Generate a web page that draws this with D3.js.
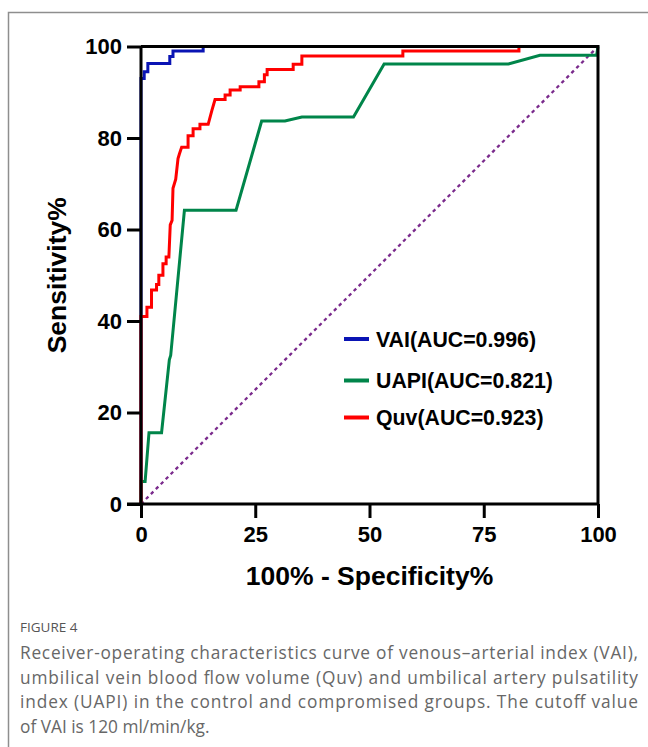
<!DOCTYPE html>
<html>
<head>
<meta charset="utf-8">
<script src="https://cdn.jsdelivr.net/npm/d3@7"></script>
<style>
  body { margin: 0; background: #fff; }
  svg { display: block; }
</style>
</head>
<body>
<div id="chart"></div>
<script>
// ROC curves, points as [100% - specificity, sensitivity]
const vaiPoints = [
  [0, 0], [0, 93], [0.7, 93], [0.7, 94.5], [1.5, 94.5], [1.5, 96.3],
  [6.3, 96.3], [6.3, 97.8], [7, 97.8], [7, 99], [13.6, 99], [13.6, 100], [100, 100]
];
const uapiPoints = [
  [0, 0], [0, 4.9], [0.9, 4.9], [1.75, 15.6], [4.5, 15.6], [6.2, 31.5], [6.5, 32.5],
  [9.5, 64.2], [20.8, 64.2], [26.4, 83.7], [31.5, 83.7], [35.2, 84.6], [46.5, 84.6],
  [53.2, 96.2], [80.4, 96.2], [87.3, 98.1], [99.7, 98.1], [100, 100]
];
const quvPoints = [
  [0, 0], [0, 41], [1.3, 41], [1.3, 43], [2.3, 43], [2.3, 46.8], [3.4, 46.8], [3.4, 48],
  [3.9, 48], [3.9, 50], [4.8, 50], [4.8, 52.5], [5.5, 52.5], [5.5, 54], [6.1, 54],
  [6.4, 61], [6.8, 62], [7.0, 69], [7.6, 71], [8.1, 75.5], [8.4, 76.5], [8.9, 78],
  [10.3, 78], [10.3, 80.5], [11.4, 80.5], [11.4, 82], [12.9, 82], [12.9, 83],
  [14.7, 83], [15.5, 86], [16.2, 88.4], [18.4, 88.4], [18.4, 89.4], [19.5, 89.4],
  [19.5, 90.5], [21.7, 90.5], [21.7, 91.2], [25.8, 91.2], [25.8, 92.3], [27, 92.3],
  [27, 93.8], [27.6, 93.8], [27.6, 95], [33.3, 95], [33.3, 96.1], [35.2, 96.1],
  [35.2, 97.9], [57.3, 97.9], [57.3, 99], [82.7, 99], [82.7, 100], [100, 100]
];
const diagonal = [[0, 0], [100, 100]];

const seriesNames = ['VAI(AUC=0.996)', 'UAPI(AUC=0.821)', 'Quv(AUC=0.923)'];
const seriesColours = ['#0a14b4', '#00854a', '#ff0000'];
const xTicks = [0, 25, 50, 75, 100];
const yTicks = [0, 20, 40, 60, 80, 100];

const captionLabel = 'FIGURE 4';
const captionLines = [
  'Receiver-operating characteristics curve of venous\u2013arterial index (VAI),',
  'umbilical vein blood flow volume (Quv) and umbilical artery pulsatility',
  'index (UAPI) in the control and compromised groups. The cutoff value',
  'of VAI is 120 ml/min/kg.'
];

const width = 648;
const height = 747;
const plotLeft = 141;
const plotRight = 598;
const plotTop = 46.5;
const plotBottom = 504;

const svg = d3
  .select('#chart')
  .append('svg')
  .attr('width', width)
  .attr('height', height)
  .style('font-family', 'Liberation Sans, Arial, sans-serif');

// grey page frame (top and left only)
svg.append('path')
  .attr('d', 'M8.5,' + height + ' L8.5,12.5 L' + width + ',12.5')
  .attr('fill', 'none')
  .attr('stroke', '#8e8e8e')
  .attr('stroke-width', 1.5);

const x = d3.scaleLinear().domain([0, 100]).range([plotLeft, plotRight]);
const y = d3.scaleLinear().domain([0, 100]).range([plotBottom, plotTop]);

const line = d3.line()
  .x(d => x(d[0]))
  .y(d => y(d[1]));

// chance line
svg.append('path')
  .attr('d', line(diagonal))
  .attr('fill', 'none')
  .attr('stroke', '#7a2a8c')
  .attr('stroke-width', 2.3)
  .attr('stroke-dasharray', '3.5,3.5');

const curves = [vaiPoints, uapiPoints, quvPoints];
curves.forEach((pts, i) => {
  svg.append('path')
    .attr('d', line(pts))
    .attr('fill', 'none')
    .attr('stroke', seriesColours[i])
    .attr('stroke-width', 3)
    .attr('stroke-linejoin', 'miter');
});

// axes
const xAxis = svg.append('g')
  .attr('transform', 'translate(0,' + plotBottom + ')')
  .call(d3.axisBottom(x).tickValues(xTicks).tickSize(14).tickPadding(8));
const yAxis = svg.append('g')
  .attr('transform', 'translate(' + plotLeft + ',0)')
  .call(d3.axisLeft(y).tickValues(yTicks).tickSize(14).tickPadding(5));

[xAxis, yAxis].forEach(g => {
  g.select('.domain').attr('stroke', '#000').attr('stroke-width', 3);
  g.selectAll('.tick line').attr('stroke', '#000').attr('stroke-width', 3);
  g.selectAll('.tick text')
    .attr('fill', '#000')
    .style('font-family', 'Liberation Sans, Arial, sans-serif')
    .style('font-size', '22px')
    .style('font-weight', 'bold');
});
xAxis.select('.domain').attr('d', 'M' + (plotLeft - 14) + ',0H' + plotRight);
yAxis.select('.domain').attr('d', 'M0,' + plotBottom + 'V' + plotTop);

// top and right frame
svg.append('path')
  .attr('d', 'M' + plotLeft + ',' + plotTop + ' H' + plotRight + ' V' + plotBottom)
  .attr('fill', 'none')
  .attr('stroke', '#000')
  .attr('stroke-width', 3);

// axis titles
svg.append('text')
  .text('100% - Specificity%')
  .attr('x', (plotLeft + plotRight) / 2)
  .attr('y', 585)
  .attr('text-anchor', 'middle')
  .style('font-size', '26.5px')
  .style('font-weight', 'bold');

svg.append('text')
  .text('Sensitivity%')
  .attr('transform', 'translate(66,' + (plotTop + plotBottom) / 2 + ') rotate(-90)')
  .attr('text-anchor', 'middle')
  .style('font-size', '26.5px')
  .style('font-weight', 'bold');

// legend
const legendY = [339, 380.5, 417.5];
const legend = svg.append('g');
seriesNames.forEach((name, i) => {
  legend.append('line')
    .attr('x1', 344).attr('x2', 369)
    .attr('y1', legendY[i]).attr('y2', legendY[i])
    .attr('stroke', seriesColours[i])
    .attr('stroke-width', 4);
  legend.append('text')
    .text(name)
    .attr('x', 376)
    .attr('y', legendY[i])
    .attr('dy', '0.36em')
    .style('font-size', '21.3px')
    .style('font-weight', 'bold');
});

// caption
const cap = svg.append('g')
  .style('font-family', 'Open Sans, Lato, sans-serif')
  .attr('fill', '#676767');
cap.append('text')
  .text(captionLabel)
  .attr('x', 20)
  .attr('y', 632)
  .style('font-size', '13.5px')
  .attr('fill', '#555');
captionLines.forEach((t, i) => {
  const txt = cap.append('text')
    .text(t)
    .attr('x', 20)
    .attr('y', 659 + i * 24.7)
    .style('font-size', '17.3px');
  if (i < captionLines.length - 1) {
    txt.attr('textLength', 618).attr('lengthAdjust', 'spacing');
  }
});
</script>
</body>
</html>
